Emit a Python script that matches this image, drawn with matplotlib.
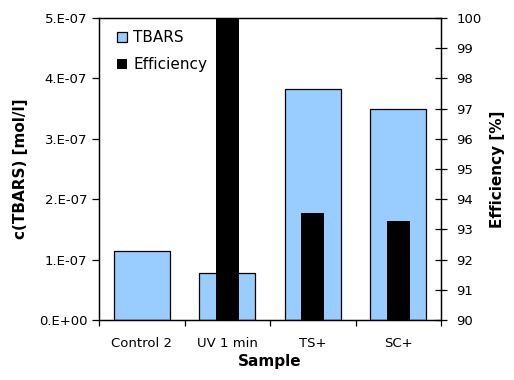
import matplotlib
matplotlib.use('Agg')
import matplotlib.pyplot as plt
import numpy as np

# data
samples = ['Control 2', 'UV 1 min', 'TS+', 'SC+']
tbars = [1.15e-7, 0.78e-7, 3.82e-7, 3.50e-7]
efficiency = [np.nan, 100.0, 93.55, 93.28]
left_ticks = [0, 1e-7, 2e-7, 3e-7, 4e-7, 5e-7]
left_labels = ['0.E+00', '1.E-07', '2.E-07', '3.E-07', '4.E-07', '5.E-07']

fig = plt.figure(figsize=(5.14, 3.80), dpi=100)
ax = fig.add_axes([0.1926, 0.158, 0.6654, 0.7946])
ax2 = ax.twinx()

x = np.arange(len(samples))

# TBARS bars (left axis)
b1 = ax.bar(x, tbars, width=0.655, color='#99ccff', edgecolor='black',
            linewidth=0.9, label='TBARS', zorder=2)
ax.set_ylim(0, 5e-7)
ax.set_xlim(-0.5, len(samples) - 0.5)
ax.set_yticks(left_ticks)
ax.set_yticklabels(left_labels)
ax.set_xticks(x)
ax.set_xticklabels(samples)
ax.set_xticks(np.arange(-0.5, len(samples)), minor=True)
ax.tick_params(axis='x', which='major', length=0, pad=12, labelsize=9.5)
ax.tick_params(axis='x', which='minor', length=4, direction='out', width=0.9)
ax.tick_params(axis='y', length=5, direction='out', labelsize=9.5, width=0.9)
ax.set_ylabel('c(TBARS) [mol/l]', fontweight='bold', fontsize=11, labelpad=8)
ax.set_xlabel('Sample', fontweight='bold', fontsize=11, labelpad=3)

# Efficiency bars (right axis)
b2 = ax2.bar(x, efficiency, width=0.27, color='black', label='Efficiency',
             zorder=3)
ax2.set_ylim(90, 100)
ax2.set_yticks(np.arange(90, 101, 1))
ax2.tick_params(axis='y', length=8, direction='inout', labelsize=9.5, width=0.9,
                pad=7)
ax2.set_ylabel('Efficiency [%]', fontweight='bold', fontsize=11, labelpad=6)

for a in (ax, ax2):
    for s in a.spines.values():
        s.set_linewidth(0.9)

ax2.legend([b1, b2], ['TBARS', 'Efficiency'], loc='upper left', frameon=False,
           fontsize=11, handlelength=0.7, handleheight=0.7, handletextpad=0.4,
           labelspacing=0.8, borderaxespad=0.3, bbox_to_anchor=(0.02, 0.995))

fig.savefig('out.png', dpi=100)
